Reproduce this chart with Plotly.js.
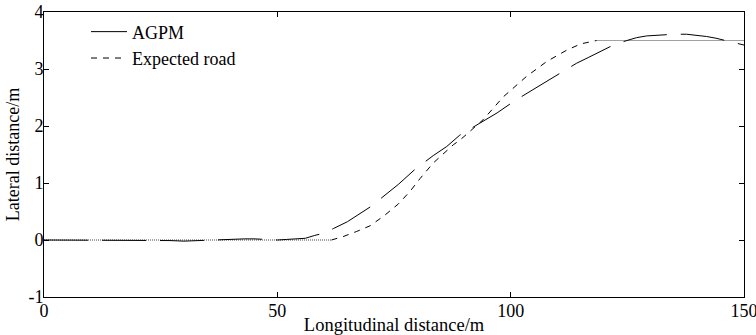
<!DOCTYPE html>
<html>
<head>
<meta charset="utf-8">
<script src="https://cdn.plot.ly/plotly-3.0.1.min.js"></script>
<style>html,body{margin:0;padding:0;background:#fff;}#chart{width:756px;height:335px;}</style>
</head>
<body>
<div id="chart"></div>
<script>
// AGPM trajectory
const agpmX = [0,5,10,15,20,22,25,27,30,33,36,40,43,45,48,50,52,54,56,58,60,62,65,70,73,76,79.5,83.4,86.3,89.1,93.4,97.1,101,105.2,108.3,110.6,114.1,116.6,119.7,122,124.9,127,129.1,132.4,135,137.7,140,142,144,145.6,148,150];
const agpmY = [0,0,0,0,0,0,-0.01,-0.01,-0.02,-0.01,0,0.02,0.02,0.02,0.01,0,0.01,0.02,0.03,0.08,0.12,0.2,0.32,0.585,0.79,0.98,1.24,1.48,1.64,1.84,2.05,2.23,2.45,2.66,2.81,2.92,3.10,3.2,3.33,3.42,3.50,3.55,3.58,3.60,3.61,3.61,3.59,3.57,3.54,3.51,3.46,3.42];
// Expected road (transition part)
const roadX = [61.6,64.1,67,69.9,73.1,75.9,78.4,80.6,83.4,87.7,89.1,94.1,98.4,103.4,107.7,112,115,118.4];
const roadY = [0,0.06,0.15,0.25,0.44,0.63,0.85,1.08,1.35,1.67,1.75,2.11,2.51,2.87,3.13,3.33,3.44,3.5];
// Expected road straight parts (dotted)
const dotX = [0,61.6,null,118.4,150];
const dotY = [0,0,null,3.5,3.5];
// Axis ticks
const xTicks = [0,50,100,150];
const yTicks = [-1,0,1,2,3,4];

const font = "'Liberation Serif','Times New Roman',serif";

const traces = [
  {x: dotX, y: dotY, mode: 'lines', showlegend: false, hoverinfo: 'skip',
   line: {color: '#444', width: 1, dash: '1px,1px'}},
  {x: agpmX, y: agpmY, mode: 'lines', name: 'AGPM',
   line: {color: '#000', width: 1, dash: '44px,14px'}},
  {x: roadX, y: roadY, mode: 'lines', name: 'Expected road',
   line: {color: '#000', width: 1, dash: '6px,6px'}}
];

const axisCommon = {
  showgrid: false, zeroline: false, showline: true, linecolor: '#000', linewidth: 1,
  mirror: 'ticks', ticks: 'inside', ticklen: 5, tickcolor: '#000', tickwidth: 1,
  ticklabeloverflow: 'allow',
  tickfont: {family: font, size: 18, color: '#000'}
};

const layout = {
  width: 756, height: 335,
  margin: {l: 44, r: 12, t: 12, b: 38},
  paper_bgcolor: '#fff', plot_bgcolor: '#fff',
  font: {family: font, color: '#000'},
  showlegend: true,
  legend: {x: 0.06, y: 0.995, xanchor: 'left', yanchor: 'top', bgcolor: 'rgba(0,0,0,0)',
           font: {family: font, size: 18, color: '#000'}, itemwidth: 36, tracegroupgap: 0},
  xaxis: Object.assign({}, axisCommon, {
    range: [0, 150], tickvals: xTicks, ticktext: xTicks.map(String),
    ticklabelstandoff: -3,
    title: {text: 'Longitudinal distance/m', font: {family: font, size: 18.5, color: '#000'}, standoff: 0}
  }),
  yaxis: Object.assign({}, axisCommon, {
    range: [-1, 4], tickvals: yTicks, ticktext: yTicks.map(String),
    ticklabelstandoff: -4,
    title: {text: 'Lateral distance/m', font: {family: font, size: 18, color: '#000'}, standoff: 4}
  })
};

Plotly.newPlot('chart', traces, layout, {staticPlot: true, displayModeBar: false});
</script>
</body>
</html>
